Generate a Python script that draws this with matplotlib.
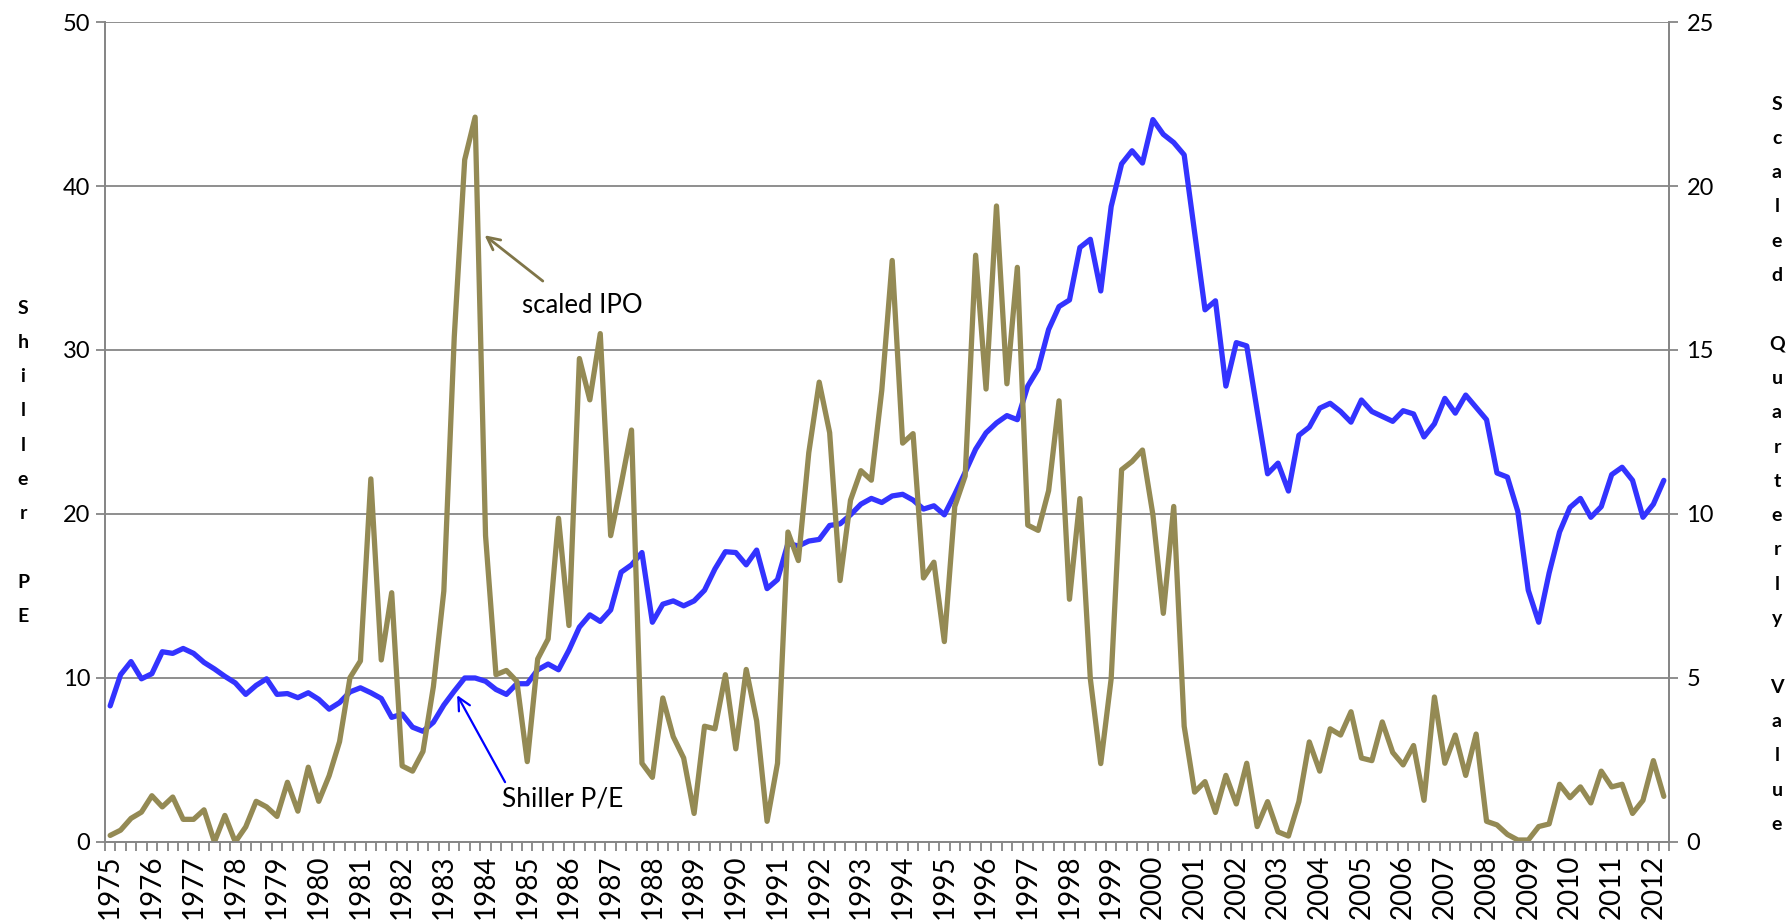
import matplotlib
matplotlib.use("Agg")
import matplotlib.pyplot as plt
import numpy as np

plt.rcParams['font.family'] = ['Lato', 'DejaVu Sans']

years = [str(y) for y in range(1975, 2013)]

# Shiller P/E, quarterly 1975Q1 - 2012Q2 (left axis)
shiller_pe = [
    8.3, 10.2, 11.0, 9.95, 10.26, 11.6, 11.5, 11.8, 11.5, 10.95,
    10.55, 10.1, 9.7, 9.0, 9.55, 9.95, 9.0, 9.05, 8.8, 9.1,
    8.7, 8.1, 8.5, 9.15, 9.4, 9.1, 8.75, 7.6, 7.8, 7.0,
    6.75, 7.3, 8.35, 9.2, 10.0, 10.0, 9.8, 9.3, 9.0, 9.65,
    9.65, 10.5, 10.85, 10.5, 11.7, 13.1, 13.85, 13.45, 14.15, 16.45,
    16.9, 17.65, 13.4, 14.5, 14.7, 14.4, 14.7, 15.35, 16.65, 17.7,
    17.65, 16.9, 17.8, 15.45, 16.0, 18.2, 18.05, 18.35, 18.45, 19.3,
    19.4, 19.95, 20.6, 20.95, 20.7, 21.1, 21.2, 20.85, 20.3, 20.5,
    19.95, 21.2, 22.55, 23.95, 24.95, 25.55, 26.0, 25.75, 27.8, 28.85,
    31.25, 32.65, 33.05, 36.25, 36.75, 33.6, 38.75, 41.35, 42.15, 41.4,
    44.05, 43.15, 42.65, 41.9, 37.2, 32.45, 33.0, 27.8, 30.45, 30.25,
    26.3, 22.45, 23.1, 21.4, 24.8, 25.3, 26.45, 26.75, 26.25, 25.6,
    26.95, 26.25, 25.95, 25.65, 26.3, 26.1, 24.7, 25.5, 27.05, 26.15,
    27.25, 26.5, 25.75, 22.5, 22.25, 20.15, 15.35, 13.4, 16.4, 18.9,
    20.4, 20.95, 19.8, 20.45, 22.4, 22.85, 22.05, 19.8, 20.6, 22.05,
]

# scaled quarterly IPO value (right axis)
scaled_ipo = [
    0.2, 0.36, 0.72, 0.91, 1.41, 1.07, 1.37, 0.69, 0.69, 0.98,
    0.0, 0.81, 0.0, 0.46, 1.24, 1.07, 0.78, 1.82, 0.94, 2.28,
    1.24, 2.02, 3.06, 5.01, 5.52, 11.07, 5.55, 7.6, 2.32, 2.16,
    2.76, 4.74, 7.65, 15.4, 20.8, 22.1, 9.34, 5.1, 5.23, 4.9,
    2.45, 5.58, 6.19, 9.87, 6.6, 14.74, 13.48, 15.5, 9.34, 10.9,
    12.56, 2.4, 1.97, 4.39, 3.21, 2.56, 0.87, 3.53, 3.45, 5.1,
    2.84, 5.26, 3.69, 0.63, 2.4, 9.45, 8.58, 11.87, 14.02, 12.48,
    7.97, 10.42, 11.32, 11.03, 13.77, 17.73, 12.16, 12.45, 8.05, 8.53,
    6.11, 10.23, 11.16, 17.89, 13.81, 19.39, 13.97, 17.52, 9.66, 9.5,
    10.71, 13.45, 7.4, 10.47, 4.98, 2.39, 4.98, 11.35, 11.6, 11.95,
    9.98, 6.97, 10.23, 3.53, 1.52, 1.84, 0.9, 2.03, 1.16, 2.4,
    0.47, 1.23, 0.31, 0.18, 1.23, 3.05, 2.16, 3.45, 3.26, 3.97,
    2.56, 2.48, 3.66, 2.73, 2.35, 2.94, 1.27, 4.42, 2.4, 3.26,
    2.03, 3.29, 0.63, 0.52, 0.23, 0.06, 0.06, 0.47, 0.55, 1.76,
    1.35, 1.68, 1.19, 2.16, 1.68, 1.76, 0.87, 1.27, 2.48, 1.39,
]

blue = "#3333FF"
olive = "#948A54"
grey = "#868686"

n = len(shiller_pe)
x = np.arange(n)

fig = plt.figure(figsize=(17.91, 9.21), dpi=100)
ax = fig.add_axes([0.0586, 0.0858, 0.8733, 0.8903])
ax2 = ax.twinx()

ax.plot(x, shiller_pe, color=blue, lw=3.8, solid_joinstyle="round", solid_capstyle="round")
ax2.plot(x, scaled_ipo, color=olive, lw=3.8, solid_joinstyle="round", solid_capstyle="round")

ax.set_xlim(-0.5, n - 0.5)
ax.set_ylim(0, 50)
ax2.set_ylim(0, 25)
ax.set_yticks(range(0, 51, 10))
ax2.set_yticks(range(0, 26, 5))

ax.grid(True, axis="y", color=grey, lw=1.3)
ax.set_axisbelow(True)

# category axis: a tick between every quarter, a year label every 4th
ax.set_xticks(np.arange(0, n, 4))
ax.set_xticklabels(years[:len(range(0, n, 4))], rotation=90, fontsize=20)
ax.set_xticks(np.arange(-0.5, n, 1), minor=True)
ax.tick_params(axis="x", which="major", length=0, pad=9)
ax.tick_params(axis="x", which="minor", length=6.5, width=1.3, color=grey)
ax.tick_params(axis="y", length=6.5, width=1.3, color=grey, labelsize=17, pad=4)
ax2.tick_params(axis="y", length=6.5, width=1.3, color=grey, labelsize=17, pad=6)

for a in (ax, ax2):
    for s in a.spines.values():
        s.set_color(grey)
        s.set_linewidth(1.3)
    a.spines["top"].set_visible(False)

# annotations
ax.annotate("", xy=(35.7, 37.1), xytext=(41.7, 34.1),
            arrowprops=dict(arrowstyle="->,head_length=0.9,head_width=0.45", color="#7F7548", lw=2))
ax.text(45.3, 32.7, "scaled IPO", fontsize=18.5, ha="center", va="center")
ax.annotate("", xy=(33.15, 9.1), xytext=(38.0, 3.5),
            arrowprops=dict(arrowstyle="->,head_length=0.9,head_width=0.45", color="#0000FF", lw=1.6))
ax.text(43.4, 2.6, "Shiller P/E", fontsize=19, ha="center", va="center")

# stacked letter axis titles
W, H = 1791, 921
step = 34.3
left_title = "Shiller PE"
for k, ch in enumerate(left_title):
    if ch != " ":
        fig.text(23 / W, 1 - (308 + k * step) / H, ch, fontsize=14, fontweight="bold",
                 ha="center", va="center")
right_title = "Scaled Quarterly Value"
for k, ch in enumerate(right_title):
    if ch != " ":
        fig.text(1777 / W, 1 - (104 + k * step) / H, ch, fontsize=14, fontweight="bold",
                 ha="center", va="center")

fig.savefig("out.png", dpi=100)
